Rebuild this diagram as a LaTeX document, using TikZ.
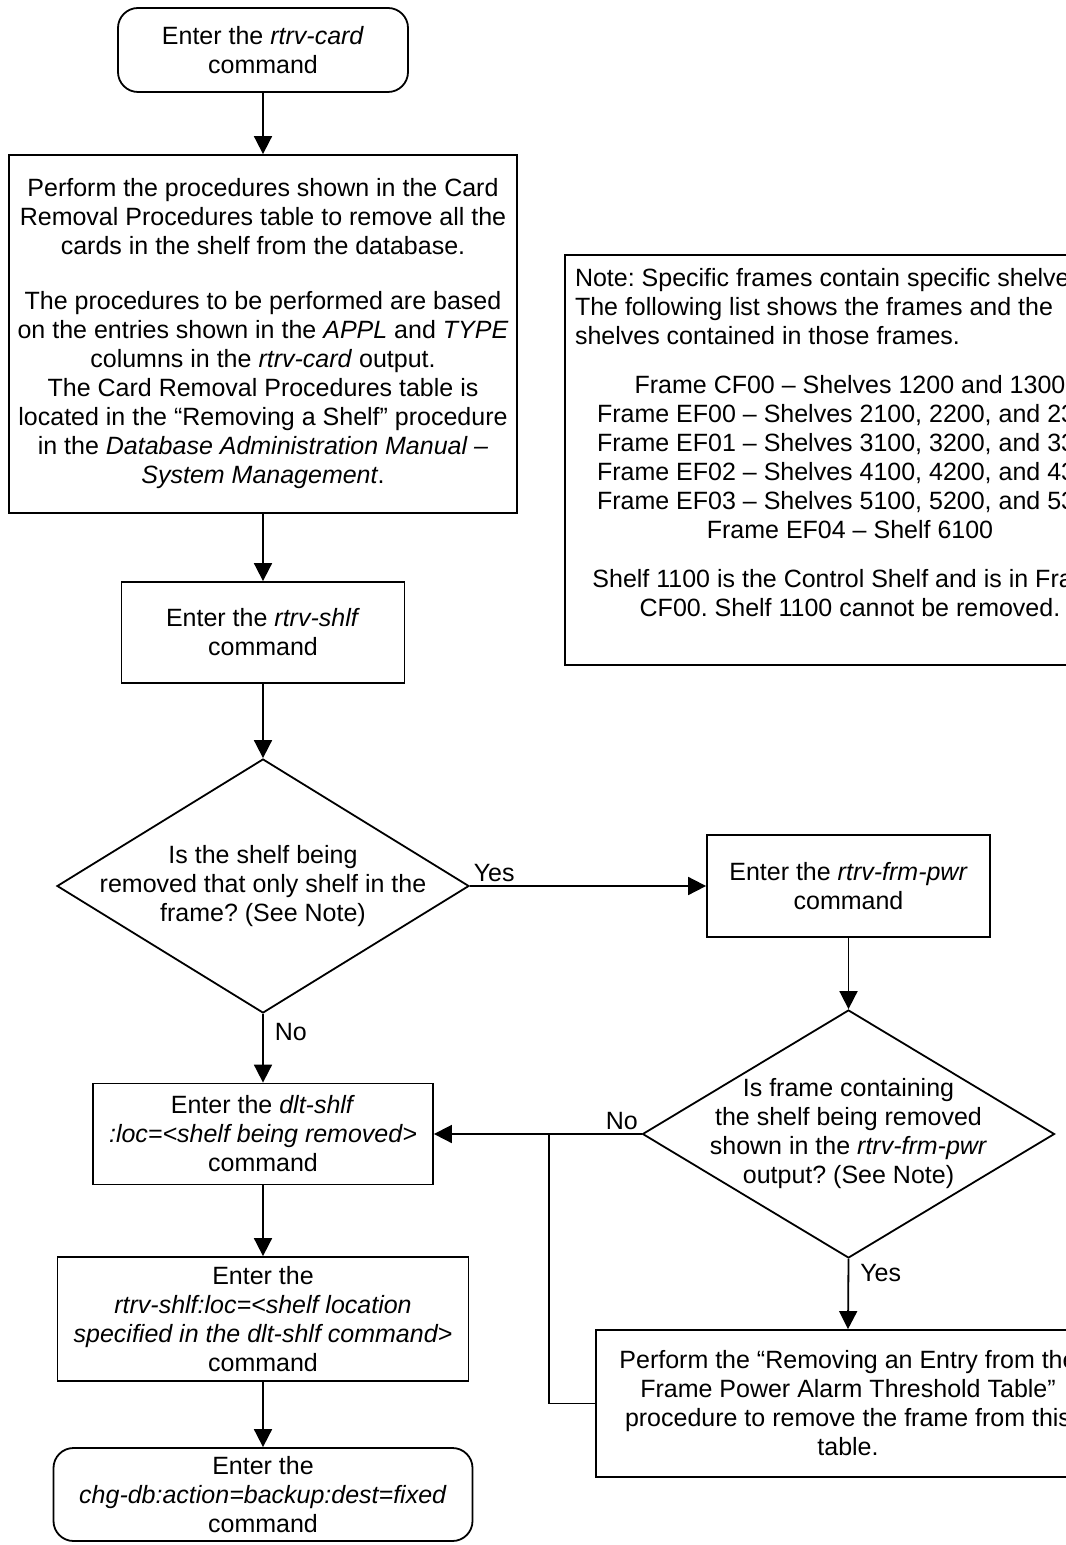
\documentclass[tikz,border=0pt]{standalone}
\usepackage{fontspec}
\setmainfont{Liberation Sans}
\usetikzlibrary{arrows.meta,positioning,shapes.geometric}
\newcommand{\flowfont}{\fontsize{12.5}{14.5}\selectfont}
\frenchspacing

\begin{document}
\begin{tikzpicture}[x=0.5pt, y=-0.5pt,
  every node/.style={font=\flowfont},
  box/.style={draw, line width=0.9pt, align=center, inner sep=0pt},
  endbox/.style={box, rounded corners=10pt},
  decision/.style={draw, line width=0.9pt, diamond, align=center, inner sep=-8pt},
  flow/.style={line width=0.9pt, -{Triangle[length=9pt, width=9pt]}},
  lbl/.style={inner sep=1.5pt}]
  \useasboundingbox (0,0) rectangle (1065,1545);

  \node[endbox, minimum width=145pt, minimum height=42pt] (start) at (263,50)
    {Enter the \textit{rtrv-card}\\command};
  \node[box, minimum width=254pt, minimum height=179pt] (perform) at (263,334)
    {Perform the procedures shown in the Card\\
     Removal Procedures table to remove all the\\
     cards in the shelf from the database.\\[13pt]
     The procedures to be performed are based\\
     on the entries shown in the \textit{APPL} and \textit{TYPE}\\
     columns in the \textit{rtrv-card} output.\\
     The Card Removal Procedures table is\\
     located in the “Removing a Shelf” procedure\\
     in the \textit{Database Administration Manual –}\\
     \textit{System Management}.};
  \node[box, minimum width=141.5pt, minimum height=50.5pt] (shelf) at (263,632.5)
    {Enter the \textit{rtrv-shlf}\\command};
  \node[decision, aspect=1.62, minimum width=206pt, minimum height=127pt] (onlyshelf) at (263,886)
    {Is the shelf being\\removed that only shelf in the\\frame? (See Note)};
  \node[box, minimum width=141.5pt, minimum height=51pt] (frmpwr) at (848.5,886)
    {Enter the \textit{rtrv-frm-pwr}\\command};
  \node[decision, aspect=1.66, minimum width=206pt, minimum height=124pt] (inframe) at (848.5,1134)
    {Is frame containing\\the shelf being removed\\shown in the \textit{rtrv-frm-pwr}\\output? (See Note)};
  \node[box, minimum width=170pt, minimum height=50.5pt] (dltshlf) at (263,1134)
    {Enter the \textit{dlt-shlf}\\\textit{:loc=<shelf being removed>}\\command};
  \node[box, minimum width=205.5pt, minimum height=62pt] (rtrvloc) at (263,1319)
    {Enter the\\\textit{rtrv-shlf:loc=<shelf location}\\\textit{specified in the dlt-shlf command>}\\command};
  \node[endbox, minimum width=209.5pt, minimum height=46.5pt] (backup) at (263,1494.5)
    {Enter the\\\textit{chg-db:action=backup:dest=fixed}\\command};
  \node[box, minimum width=252pt, minimum height=73.5pt] (rmentry) at (848,1403.5)
    {Perform the “Removing an Entry from the\\
     Frame Power Alarm Threshold Table”\\
     procedure to remove the frame from this\\
     table.};
  \node[box, minimum width=285pt, minimum height=205pt] (note) at (850,460)
    {\parbox{275pt}{\raggedright
     Note: Specific frames contain specific shelves.\\
     The following list shows the frames and the\\
     shelves contained in those frames.\par
     \vspace{10pt}\centering
     Frame CF00 – Shelves 1200 and 1300\\
     Frame EF00 – Shelves 2100, 2200, and 2300\\
     Frame EF01 – Shelves 3100, 3200, and 3300\\
     Frame EF02 – Shelves 4100, 4200, and 4300\\
     Frame EF03 – Shelves 5100, 5200, and 5300\\
     Frame EF04 – Shelf 6100\par
     \vspace{10pt}
     Shelf 1100 is the Control Shelf and is in Frame\\
     CF00. Shelf 1100 cannot be removed.\par
     \vspace{17pt}}};

  \coordinate (join) at (549,1134);

  \draw[flow] (start) -- (perform);
  \draw[flow] (perform) -- (shelf);
  \draw[flow] (shelf) -- (onlyshelf);
  \draw[flow] (onlyshelf.east) -- node[lbl, pos=0, anchor=south west] {Yes} (frmpwr.west);
  \draw[flow] (onlyshelf.south) -- node[lbl, pos=0.27, right=4pt] {No} (dltshlf.north);
  \draw[flow] (frmpwr) -- (inframe);
  \draw[flow] (inframe.south) -- node[lbl, pos=0.2, right=4pt] {Yes} (rmentry.north);
  \draw[flow] (inframe.west) -- node[lbl, pos=0, anchor=south east] {No} (dltshlf.east);
  \draw[line width=0.9pt] (rmentry.west) -| (join);
  \draw[flow] (dltshlf) -- (rtrvloc);
  \draw[flow] (rtrvloc) -- (backup);
\end{tikzpicture}
\end{document}
